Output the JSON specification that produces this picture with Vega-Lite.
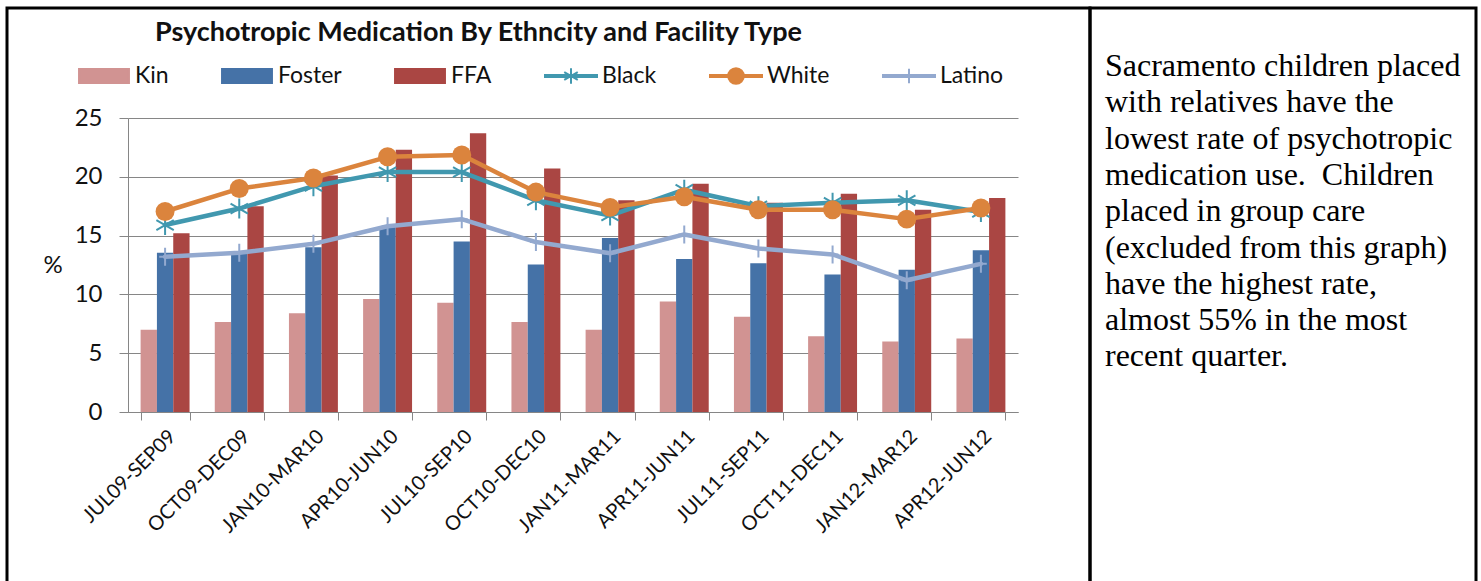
{
  "$schema": "https://vega.github.io/schema/vega-lite/v6.json",
  "padding": {"left": 5, "top": 6, "right": 7, "bottom": 0},
  "background": "white",
  "bounds": "flush",
  "spacing": 0,
  "config": {
    "font": "Lato",
    "view": {"stroke": null},
    "axis": {"labelColor": "#111", "titleColor": "#111", "domainColor": "#868686", "tickColor": "#868686", "gridColor": "#868686", "domainWidth": 1, "tickWidth": 1, "gridWidth": 1}
  },
  "datasets": {
    "bars": [
      {"period": "JUL09-SEP09", "series": "Kin", "value": 7.0},
      {"period": "OCT09-DEC09", "series": "Kin", "value": 7.65},
      {"period": "JAN10-MAR10", "series": "Kin", "value": 8.4},
      {"period": "APR10-JUN10", "series": "Kin", "value": 9.6},
      {"period": "JUL10-SEP10", "series": "Kin", "value": 9.3},
      {"period": "OCT10-DEC10", "series": "Kin", "value": 7.65},
      {"period": "JAN11-MAR11", "series": "Kin", "value": 7.0},
      {"period": "APR11-JUN11", "series": "Kin", "value": 9.4},
      {"period": "JUL11-SEP11", "series": "Kin", "value": 8.1},
      {"period": "OCT11-DEC11", "series": "Kin", "value": 6.45},
      {"period": "JAN12-MAR12", "series": "Kin", "value": 6.0},
      {"period": "APR12-JUN12", "series": "Kin", "value": 6.25},
      {"period": "JUL09-SEP09", "series": "Foster", "value": 13.55},
      {"period": "OCT09-DEC09", "series": "Foster", "value": 13.5},
      {"period": "JAN10-MAR10", "series": "Foster", "value": 14.0},
      {"period": "APR10-JUN10", "series": "Foster", "value": 15.8},
      {"period": "JUL10-SEP10", "series": "Foster", "value": 14.5},
      {"period": "OCT10-DEC10", "series": "Foster", "value": 12.55},
      {"period": "JAN11-MAR11", "series": "Foster", "value": 14.8},
      {"period": "APR11-JUN11", "series": "Foster", "value": 13.0},
      {"period": "JUL11-SEP11", "series": "Foster", "value": 12.65},
      {"period": "OCT11-DEC11", "series": "Foster", "value": 11.7},
      {"period": "JAN12-MAR12", "series": "Foster", "value": 12.1},
      {"period": "APR12-JUN12", "series": "Foster", "value": 13.75},
      {"period": "JUL09-SEP09", "series": "FFA", "value": 15.2},
      {"period": "OCT09-DEC09", "series": "FFA", "value": 17.5},
      {"period": "JAN10-MAR10", "series": "FFA", "value": 20.1},
      {"period": "APR10-JUN10", "series": "FFA", "value": 22.3},
      {"period": "JUL10-SEP10", "series": "FFA", "value": 23.7},
      {"period": "OCT10-DEC10", "series": "FFA", "value": 20.7},
      {"period": "JAN11-MAR11", "series": "FFA", "value": 18.0},
      {"period": "APR11-JUN11", "series": "FFA", "value": 19.4},
      {"period": "JUL11-SEP11", "series": "FFA", "value": 17.8},
      {"period": "OCT11-DEC11", "series": "FFA", "value": 18.55},
      {"period": "JAN12-MAR12", "series": "FFA", "value": 17.2},
      {"period": "APR12-JUN12", "series": "FFA", "value": 18.2}
    ],
    "lines": [
      {"period": "JUL09-SEP09", "series": "Black", "value": 15.9},
      {"period": "OCT09-DEC09", "series": "Black", "value": 17.3},
      {"period": "JAN10-MAR10", "series": "Black", "value": 19.2},
      {"period": "APR10-JUN10", "series": "Black", "value": 20.4},
      {"period": "JUL10-SEP10", "series": "Black", "value": 20.4},
      {"period": "OCT10-DEC10", "series": "Black", "value": 18.0},
      {"period": "JAN11-MAR11", "series": "Black", "value": 16.7},
      {"period": "APR11-JUN11", "series": "Black", "value": 18.9},
      {"period": "JUL11-SEP11", "series": "Black", "value": 17.5},
      {"period": "OCT11-DEC11", "series": "Black", "value": 17.8},
      {"period": "JAN12-MAR12", "series": "Black", "value": 18.0},
      {"period": "APR12-JUN12", "series": "Black", "value": 17.0},
      {"period": "JUL09-SEP09", "series": "White", "value": 17.05},
      {"period": "OCT09-DEC09", "series": "White", "value": 19.0},
      {"period": "JAN10-MAR10", "series": "White", "value": 19.9},
      {"period": "APR10-JUN10", "series": "White", "value": 21.7},
      {"period": "JUL10-SEP10", "series": "White", "value": 21.85},
      {"period": "OCT10-DEC10", "series": "White", "value": 18.7},
      {"period": "JAN11-MAR11", "series": "White", "value": 17.4},
      {"period": "APR11-JUN11", "series": "White", "value": 18.3},
      {"period": "JUL11-SEP11", "series": "White", "value": 17.2},
      {"period": "OCT11-DEC11", "series": "White", "value": 17.2},
      {"period": "JAN12-MAR12", "series": "White", "value": 16.4},
      {"period": "APR12-JUN12", "series": "White", "value": 17.35},
      {"period": "JUL09-SEP09", "series": "Latino", "value": 13.2},
      {"period": "OCT09-DEC09", "series": "Latino", "value": 13.55},
      {"period": "JAN10-MAR10", "series": "Latino", "value": 14.3},
      {"period": "APR10-JUN10", "series": "Latino", "value": 15.8},
      {"period": "JUL10-SEP10", "series": "Latino", "value": 16.4},
      {"period": "OCT10-DEC10", "series": "Latino", "value": 14.45},
      {"period": "JAN11-MAR11", "series": "Latino", "value": 13.5},
      {"period": "APR11-JUN11", "series": "Latino", "value": 15.1},
      {"period": "JUL11-SEP11", "series": "Latino", "value": 13.9},
      {"period": "OCT11-DEC11", "series": "Latino", "value": 13.4},
      {"period": "JAN12-MAR12", "series": "Latino", "value": 11.2},
      {"period": "APR12-JUN12", "series": "Latino", "value": 12.6}
    ],
    "note": [
      {"note": "Sacramento children placed\nwith relatives have the\nlowest rate of psychotropic\nmedication use.\u00a0 Children\nplaced in group care\n(excluded from this graph)\nhave the highest rate,\nalmost 55% in the most\nrecent quarter."}
    ]
  },
  "hconcat": [
    {
      "width": 1083,
      "height": 590,
      "view": {"stroke": "black", "strokeWidth": 3},
      "title": {
        "text": "Psychotropic Medication By Ethncity and Facility Type",
        "frame": "group",
        "anchor": "middle",
        "dx": -70,
        "offset": -39,
        "fontSize": 27,
        "fontWeight": "bold",
        "color": "#111"
      },
      "encoding": {
        "x": {
          "field": "period",
          "type": "nominal",
          "sort": ["JUL09-SEP09", "OCT09-DEC09", "JAN10-MAR10", "APR10-JUN10", "JUL10-SEP10", "OCT10-DEC10", "JAN11-MAR11", "APR11-JUN11", "JUL11-SEP11", "OCT11-DEC11", "JAN12-MAR12", "APR12-JUN12"],
          "scale": {"range": [121, 1011], "paddingInner": 0.34, "paddingOuter": 0.17},
          "axis": {"title": null, "orient": "bottom", "offset": -186, "labelAngle": -45, "labelFontSize": 20, "tickBand": "extent", "tickSize": 8, "labelPadding": 6, "grid": false}
        },
        "y": {
          "field": "value",
          "type": "quantitative",
          "scale": {"domain": [0, 25], "range": [404, 110], "nice": false},
          "axis": {"title": "%", "titleAngle": 0, "titleFontSize": 24, "titleFontWeight": "normal", "titleBaseline": "middle", "titleAlign": "right", "titlePadding": 12, "offset": -121, "values": [0, 5, 10, 15, 20, 25], "tickSize": 9, "labelFontSize": 24, "labelPadding": 17, "grid": true}
        },
        "color": {
          "field": "series",
          "type": "nominal",
          "scale": {
            "domain": ["Kin", "Foster", "FFA", "Black", "White", "Latino"],
            "range": ["#D19392", "#4572A7", "#AA4643", "#4198AF", "#DB843D", "#93A9CF"]
          },
          "legend": {
            "title": null,
            "orient": "none",
            "legendX": 70,
            "legendY": 41,
            "direction": "horizontal",
            "columns": 6,
            "columnPadding": 49,
            "symbolSize": 2704,
            "symbolStrokeWidth": 2,
            "symbolOpacity": 1,
            "labelFontSize": 23,
            "labelOffset": 4,
            "labelColor": "#111"
          }
        }
      },
      "layer": [
        {
          "data": {"name": "bars"},
          "mark": {"type": "bar", "opacity": 1},
          "encoding": {
            "xOffset": {"field": "series", "type": "nominal", "sort": ["Kin", "Foster", "FFA"], "scale": {"paddingInner": 0, "paddingOuter": 0}}
          }
        },
        {
          "data": {"name": "lines"},
          "mark": {"type": "line", "strokeWidth": 4.5, "strokeJoin": "round", "strokeCap": "round", "opacity": 1}
        },
        {
          "data": {"name": "lines"},
          "transform": [{"filter": "datum.series === 'Black'"}],
          "mark": {"type": "point", "shape": "M0,-1V1M-0.87,-0.5L0.87,0.5M-0.87,0.5L0.87,-0.5", "filled": false, "strokeWidth": 2, "size": 400, "opacity": 1}
        },
        {
          "data": {"name": "lines"},
          "transform": [{"filter": "datum.series === 'White'"}],
          "mark": {"type": "point", "shape": "circle", "filled": true, "size": 360, "opacity": 1}
        },
        {
          "data": {"name": "lines"},
          "transform": [{"filter": "datum.series === 'Latino'"}],
          "mark": {"type": "point", "shape": "M0,-1V1M-0.65,0H0.65", "filled": false, "strokeWidth": 2, "size": 324, "opacity": 1}
        },
        {
          "data": {"name": "lines"},
          "mark": {"type": "point", "filled": true, "opacity": 0},
          "encoding": {
            "shape": {
              "field": "series",
              "type": "nominal",
              "scale": {
                "domain": ["Kin", "Foster", "FFA", "Black", "White", "Latino"],
                "range": [
                  "M-0.96,-0.27H0.96V0.27H-0.96Z",
                  "M-0.96,-0.27H0.96V0.27H-0.96Z",
                  "M-0.96,-0.27H0.96V0.27H-0.96Z",
                  "M-1,-0.04H1V0.04H-1ZM0,-0.3V0.3M-0.26,-0.15L0.26,0.15M-0.26,0.15L0.26,-0.15",
                  "M-1,-0.04H1V0.04H-1ZM0.3,0A0.3,0.3 0 1,1 -0.3,0A0.3,0.3 0 1,1 0.3,0Z",
                  "M-1,-0.04H1V0.04H-1ZM0,-0.28V0.28"
                ]
              },
              "legend": {
                "title": null,
                "orient": "none",
                "legendX": 70,
                "legendY": 41,
                "direction": "horizontal",
                "columns": 6,
                "columnPadding": 49,
                "symbolSize": 2704,
                "symbolStrokeWidth": 2,
                "symbolOpacity": 1,
                "labelFontSize": 23,
                "labelOffset": 4,
                "labelColor": "#111"
              }
            }
          }
        }
      ]
    },
    {
      "width": 386,
      "height": 590,
      "view": {"stroke": "black", "strokeWidth": 3},
      "data": {"name": "note"},
      "mark": {"type": "text", "align": "left", "baseline": "alphabetic", "font": "Liberation Serif", "fontSize": 32, "lineHeight": 36.3, "lineBreak": "\n", "dx": 15, "dy": 68, "color": "black"},
      "encoding": {
        "text": {"field": "note", "type": "nominal"},
        "x": {"datum": 0, "type": "quantitative", "scale": {"domain": [0, 1]}, "axis": null},
        "y": {"datum": 1, "type": "quantitative", "scale": {"domain": [0, 1]}, "axis": null}
      }
    }
  ]
}
